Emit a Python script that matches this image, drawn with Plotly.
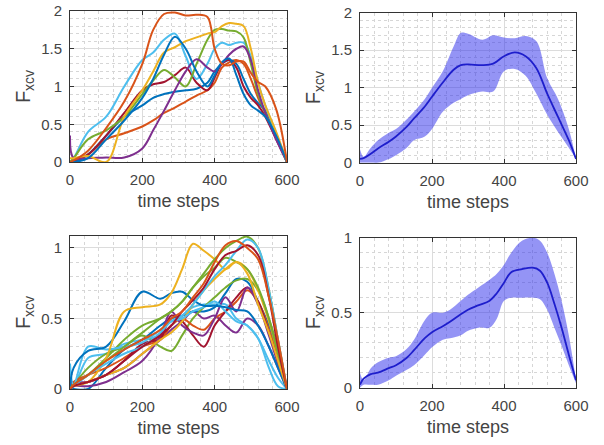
import plotly.graph_objects as go

# ---------------- data ----------------
# Top-left: individual trials
X_TL = [0, 10, 50, 100, 150, 200, 230, 260, 290, 320, 350, 380, 400, 420, 440, 460, 480, 500, 520, 540, 570, 600]
tl_blue1 = [0, 0.0, 0.05, 0.3, 0.55, 0.85, 1.1, 1.42, 1.66, 1.5, 1.2, 1.0, 1.15, 1.32, 1.37, 1.15, 0.9, 0.75, 0.68, 0.6, 0.35, 0]
tl_orange1 = [0, 0.02, 0.15, 0.45, 0.8, 1.3, 1.75, 1.96, 1.98, 1.94, 1.95, 1.92, 1.5, 1.3, 1.28, 1.33, 1.33, 1.18, 1.06, 1.0, 0.7, 0]
tl_yellow = [0.05, 0.05, 0.08, 0.0, 0.6, 0.95, 1.2, 1.45, 1.52, 1.6, 1.65, 1.7, 1.72, 1.8, 1.84, 1.83, 1.8, 1.5, 1.05, 0.75, 0.4, 0]
tl_purple = [0.35, 0.05, 0.05, 0.06, 0.06, 0.18, 0.42, 0.68, 0.95, 1.2, 1.36, 1.25, 1.2, 1.3, 1.42, 1.5, 1.53, 1.35, 0.95, 0.65, 0.3, 0]
tl_green = [0, 0.05, 0.3, 0.42, 0.6, 0.9, 1.08, 1.22, 1.12, 1.0, 1.3, 1.62, 1.75, 1.76, 1.74, 1.73, 1.65, 1.3, 0.9, 0.65, 0.33, 0]
tl_lightblue = [0, 0.05, 0.4, 0.6, 1.0, 1.35, 1.45, 1.62, 1.7, 1.4, 1.1, 1.3, 1.5, 1.58, 1.55, 1.58, 1.58, 1.4, 1.05, 0.75, 0.38, 0]
tl_darkred = [0, 0.02, 0.1, 0.35, 0.65, 0.95, 1.03, 1.06, 1.15, 1.25, 1.05, 0.95, 1.12, 1.3, 1.35, 1.25, 1.0, 0.85, 0.75, 0.6, 0.3, 0]
tl_blue2 = [0, 0.0, 0.1, 0.35, 0.6, 0.75, 0.85, 0.9, 0.93, 0.95, 0.97, 1.05, 1.2, 1.3, 1.35, 1.3, 1.1, 0.9, 0.78, 0.68, 0.35, 0]
tl_orange2 = [0, 0.02, 0.1, 0.3, 0.38, 0.47, 0.55, 0.65, 0.72, 0.8, 0.88, 0.95, 1.05, 1.25, 1.32, 1.35, 1.3, 1.1, 0.85, 0.65, 0.35, 0]

# Top-right: mean and band
X_TR = [0, 10, 30, 50, 80, 100, 130, 150, 180, 200, 230, 260, 280, 300, 340, 370, 400, 430, 460, 490, 520, 550, 580, 600]
tr_mean = [0.05, 0.06, 0.12, 0.19, 0.28, 0.35, 0.48, 0.59, 0.75, 0.88, 1.07, 1.24, 1.3, 1.31, 1.3, 1.32, 1.42, 1.47, 1.42, 1.26, 0.92, 0.61, 0.3, 0.05]
tr_upper = [0.18, 0.08, 0.2, 0.3, 0.4, 0.45, 0.58, 0.68, 0.85, 1.0, 1.22, 1.55, 1.73, 1.72, 1.64, 1.7, 1.67, 1.66, 1.69, 1.62, 1.13, 0.85, 0.45, 0.05]
tr_lower = [0.0, 0.0, 0.0, 0.0, 0.05, 0.1, 0.2, 0.3, 0.35, 0.45, 0.68, 0.8, 0.85, 0.9, 0.95, 0.95, 1.22, 1.25, 1.16, 0.92, 0.64, 0.41, 0.2, 0.05]

# Bottom-left: individual trials
X_BL = [0, 10, 50, 100, 150, 200, 250, 280, 310, 340, 370, 400, 430, 460, 490, 520, 550, 575, 600]
bl_blue1 = [0, 0.15, 0.27, 0.3, 0.48, 0.69, 0.64, 0.68, 0.69, 0.63, 0.59, 0.59, 0.58, 0.56, 0.55, 0.45, 0.3, 0.15, 0]
bl_orange1 = [0, 0.03, 0.1, 0.2, 0.28, 0.35, 0.42, 0.5, 0.55, 0.65, 0.75, 0.9, 1.02, 1.05, 1.0, 0.92, 0.65, 0.35, 0]
bl_yellow1 = [0, 0.02, 0.05, 0.22, 0.55, 0.58, 0.6, 0.68, 0.85, 1.03, 0.98, 0.92, 0.85, 0.9, 0.82, 0.6, 0.4, 0.2, 0]
bl_purple1 = [0, 0.02, 0.02, 0.05, 0.12, 0.2, 0.38, 0.55, 0.45, 0.4, 0.38, 0.5, 0.65, 0.55, 0.72, 0.6, 0.38, 0.18, 0]
bl_green1 = [0, 0.03, 0.1, 0.2, 0.3, 0.4, 0.5, 0.55, 0.62, 0.72, 0.82, 0.92, 1.0, 1.05, 1.08, 1.0, 0.7, 0.35, 0]
bl_lightblue1 = [0.18, 0.03, 0.3, 0.28, 0.3, 0.33, 0.42, 0.48, 0.5, 0.55, 0.58, 0.62, 0.55, 0.48, 0.45, 0.36, 0.15, 0.02, 0]
bl_darkred1 = [0, 0.02, 0.05, 0.1, 0.2, 0.3, 0.38, 0.45, 0.55, 0.63, 0.72, 0.85, 0.95, 0.98, 1.02, 0.95, 0.65, 0.3, 0]
bl_blue2 = [0, 0.0, 0.0, 0.15, 0.28, 0.35, 0.45, 0.5, 0.52, 0.55, 0.55, 0.58, 0.68, 0.78, 0.76, 0.62, 0.45, 0.25, 0]
bl_orange2 = [0, 0.05, 0.1, 0.15, 0.22, 0.3, 0.35, 0.45, 0.5, 0.45, 0.42, 0.5, 0.55, 0.62, 0.7, 0.62, 0.42, 0.22, 0]
bl_yellow2 = [0, 0.02, 0.05, 0.1, 0.15, 0.25, 0.35, 0.4, 0.48, 0.6, 0.7, 0.78, 0.85, 0.9, 0.85, 0.7, 0.48, 0.25, 0]
bl_purple2 = [0.05, 0.05, 0.05, 0.1, 0.15, 0.25, 0.35, 0.42, 0.48, 0.55, 0.5, 0.52, 0.45, 0.4, 0.5, 0.45, 0.3, 0.15, 0]
bl_green2 = [0, 0.03, 0.15, 0.25, 0.3, 0.38, 0.3, 0.27, 0.38, 0.5, 0.58, 0.65, 0.72, 0.77, 0.78, 0.7, 0.5, 0.28, 0]
bl_lightblue2 = [0, 0.02, 0.1, 0.18, 0.25, 0.3, 0.4, 0.48, 0.52, 0.6, 0.7, 0.8, 0.88, 0.98, 1.06, 1.0, 0.7, 0.35, 0]
bl_darkred2 = [0, 0.02, 0.05, 0.1, 0.2, 0.32, 0.36, 0.52, 0.48, 0.38, 0.3, 0.45, 0.55, 0.65, 0.72, 0.62, 0.4, 0.2, 0]
bl_green3 = [0, 0.03, 0.1, 0.22, 0.35, 0.45, 0.5, 0.55, 0.62, 0.72, 0.8, 0.86, 0.93, 0.9, 0.85, 0.72, 0.5, 0.25, 0]
bl_lightblue3 = [0.05, 0.02, 0.22, 0.25, 0.32, 0.35, 0.38, 0.45, 0.52, 0.58, 0.6, 0.6, 0.6, 0.5, 0.45, 0.36, 0.2, 0.08, 0]

# Bottom-right: mean and band
X_BR = [0, 10, 30, 50, 80, 100, 130, 150, 180, 200, 230, 250, 280, 300, 330, 360, 380, 400, 420, 450, 480, 500, 520, 540, 560, 580, 600]
br_mean = [0.02, 0.06, 0.09, 0.1, 0.13, 0.15, 0.2, 0.25, 0.33, 0.37, 0.41, 0.44, 0.49, 0.52, 0.55, 0.58, 0.63, 0.7, 0.77, 0.79, 0.8, 0.78, 0.7, 0.56, 0.4, 0.22, 0.05]
br_upper = [0.1, 0.05, 0.13, 0.17, 0.2, 0.21, 0.26, 0.32, 0.45, 0.5, 0.5, 0.52, 0.58, 0.62, 0.67, 0.72, 0.76, 0.82, 0.9, 0.98, 1.0, 0.98, 0.9, 0.76, 0.58, 0.35, 0.05]
br_lower = [0.0, 0.02, 0.02, 0.02, 0.05, 0.08, 0.12, 0.15, 0.22, 0.27, 0.32, 0.33, 0.35, 0.38, 0.4, 0.4, 0.46, 0.58, 0.6, 0.6, 0.6, 0.59, 0.52, 0.4, 0.28, 0.15, 0.03]

X_TICKS = [0, 200, 400, 600]
X_TITLE = "time steps"
Y_TITLE = "F<sub>xcv</sub>"

# ---------------- styling ----------------
C_BLUE, C_ORANGE, C_YELLOW = "#0072BD", "#D95319", "#EDB120"
C_PURPLE, C_GREEN, C_LBLUE, C_DRED = "#7E2F8E", "#77AC30", "#4DBEEE", "#A2142F"
MEAN_COLOR = "#1E1ECC"
BAND_COLOR = "rgba(50,50,235,0.52)"
FONT = "Liberation Sans, Arial, Helvetica, sans-serif"
TXT = "#444444"
AXC = "#333333"

fig = go.Figure()

tl_series = [
    (tl_orange2, C_ORANGE), (tl_blue2, C_BLUE), (tl_darkred, C_DRED), (tl_lightblue, C_LBLUE),
    (tl_green, C_GREEN), (tl_purple, C_PURPLE), (tl_yellow, C_YELLOW), (tl_blue1, C_BLUE),
    (tl_orange1, C_ORANGE),
]
for ys, c in tl_series:
    fig.add_trace(go.Scatter(x=X_TL, y=ys, mode="lines", line=dict(color=c, width=2, shape="spline", smoothing=1.0),
                             xaxis="x", yaxis="y", showlegend=False, hoverinfo="skip"))

bl_series = [
    (bl_lightblue3, C_LBLUE), (bl_purple2, C_PURPLE), (bl_blue2, C_BLUE), (bl_green2, C_GREEN),
    (bl_orange2, C_ORANGE), (bl_darkred2, C_DRED), (bl_purple1, C_PURPLE), (bl_yellow2, C_YELLOW),
    (bl_green3, C_GREEN), (bl_lightblue1, C_LBLUE), (bl_blue1, C_BLUE), (bl_yellow1, C_YELLOW),
    (bl_green1, C_GREEN), (bl_lightblue2, C_LBLUE), (bl_darkred1, C_DRED), (bl_orange1, C_ORANGE),
]
for ys, c in bl_series:
    fig.add_trace(go.Scatter(x=X_BL, y=ys, mode="lines", line=dict(color=c, width=2, shape="spline", smoothing=1.0),
                             xaxis="x3", yaxis="y3", showlegend=False, hoverinfo="skip"))

for xs, up, lo, mn, xa, ya in [(X_TR, tr_upper, tr_lower, tr_mean, "x2", "y2"),
                               (X_BR, br_upper, br_lower, br_mean, "x4", "y4")]:
    fig.add_trace(go.Scatter(x=xs, y=up, mode="lines", line=dict(width=0, shape="spline"),
                             xaxis=xa, yaxis=ya, showlegend=False, hoverinfo="skip"))
    fig.add_trace(go.Scatter(x=xs, y=lo, mode="lines", line=dict(width=0, shape="spline"),
                             fill="tonexty", fillcolor=BAND_COLOR,
                             xaxis=xa, yaxis=ya, showlegend=False, hoverinfo="skip"))
    fig.add_trace(go.Scatter(x=xs, y=mn, mode="lines", line=dict(color=MEAN_COLOR, width=1.8, shape="spline"),
                             xaxis=xa, yaxis=ya, showlegend=False, hoverinfo="skip"))

W, H = 604, 445
def dx(a, b):
    return [a / W, b / W]
def dy(top, bottom):
    return [1 - bottom / H, 1 - top / H]

def xaxis(domain, anchor):
    return dict(domain=domain, anchor=anchor, range=[0, 600], tickvals=X_TICKS,
                showline=True, linecolor=AXC, linewidth=1, mirror="ticks",
                ticks="inside", ticklen=4, tickcolor=AXC, ticklabelstandoff=4,
                showgrid=True, gridcolor="#DCDCDC", gridwidth=1, zeroline=False,
                minor=dict(dtick=40, tick0=0, showgrid=True, gridcolor="#D6D6D6", griddash="dot", gridwidth=1, ticks=""),
                tickfont=dict(family=FONT, size=15, color=TXT),
                title=dict(text=X_TITLE, font=dict(family=FONT, size=18, color=TXT), standoff=7),
                automargin=False, fixedrange=True)

def yaxis(domain, anchor, rng, tickvals):
    return dict(domain=domain, anchor=anchor, range=rng, tickvals=tickvals,
                showline=True, linecolor=AXC, linewidth=1, mirror="ticks",
                ticks="inside", ticklen=4, tickcolor=AXC, ticklabelstandoff=4,
                showgrid=True, gridcolor="#DCDCDC", gridwidth=1, zeroline=False,
                minor=dict(dtick=0.1, tick0=0, showgrid=True, gridcolor="#D6D6D6", griddash="dot", gridwidth=1, ticks=""),
                tickfont=dict(family=FONT, size=15, color=TXT),
                title=dict(text=Y_TITLE, font=dict(family=FONT, size=20, color=TXT), standoff=5),
                automargin=False, fixedrange=True)

fig.update_layout(
    width=W, height=H,
    margin=dict(l=0, r=0, t=0, b=0),
    paper_bgcolor="white", plot_bgcolor="white",
    showlegend=False,
    xaxis=xaxis(dx(70, 287), "y"),
    yaxis=yaxis(dy(11, 162), "x", [0, 2], [0, 0.5, 1, 1.5, 2]),
    xaxis2=xaxis(dx(360, 576), "y2"),
    yaxis2=yaxis(dy(12.7, 162.7), "x2", [0, 2], [0, 0.5, 1, 1.5, 2]),
    xaxis3=xaxis(dx(70, 287), "y3"),
    yaxis3=yaxis(dy(236, 389), "x3", [0, 1.085], [0, 0.5, 1]),
    xaxis4=xaxis(dx(360, 576), "y4"),
    yaxis4=yaxis(dy(237.7, 387.7), "x4", [0, 1], [0, 0.5, 1]),
)

fig.write_html("out.html")
